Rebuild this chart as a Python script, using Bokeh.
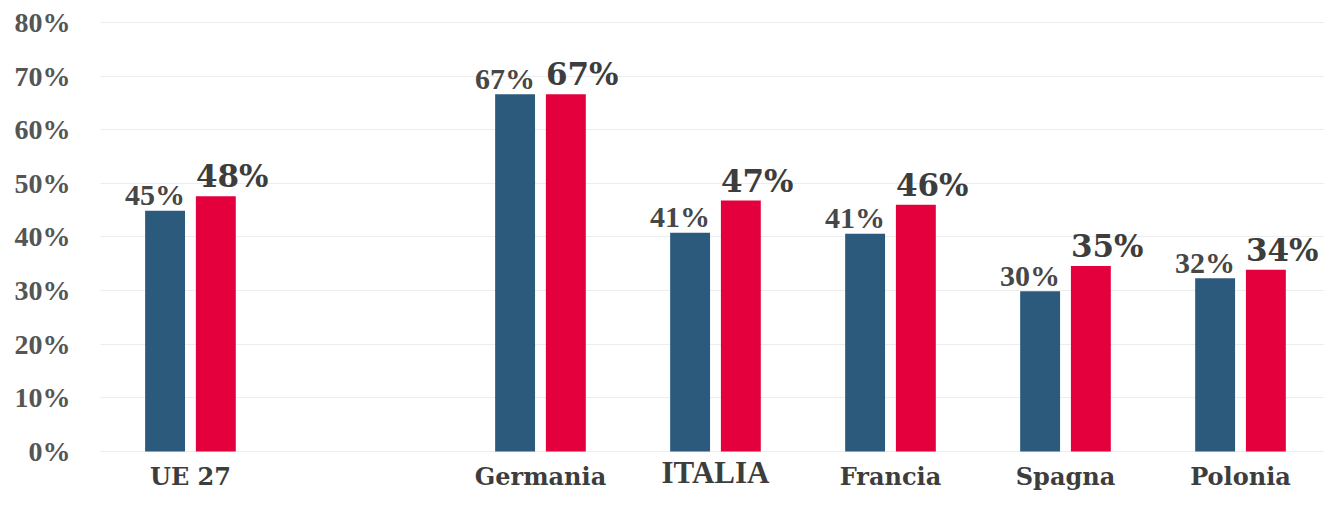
from bokeh.plotting import figure
from bokeh.models import Range1d, FixedTicker, ColumnDataSource
from bokeh.core.properties import value
from bokeh.embed import file_html
from bokeh.resources import INLINE

# ---- data ----
categories = ["UE 27", "", "Germania", "ITALIA", "Francia", "Spagna", "Polonia"]
series_a = [44.9, None, 66.6, 40.8, 40.6, 29.9, 32.3]   # blue
series_b = [47.6, None, 66.6, 46.8, 46.0, 34.6, 33.9]   # red
y_ticks = [0, 10, 20, 30, 40, 50, 60, 70, 80]
y_tick_labels = ["0%", "10%", "20%", "30%", "40%", "50%", "60%", "70%", "80%"]

BLUE = "#2C5A7D"
RED = "#E4003D"
TXT = "#3D3D3D"

p = figure(width=1324, height=490, output_backend="svg", toolbar_location=None,
           x_range=Range1d(-0.514, 6.48), y_range=Range1d(-7.27, 84.1),
           min_border=0, min_border_left=100)
p.outline_line_color = None
p.background_fill_color = "white"
p.border_fill_color = "white"

idx = [i for i, c in enumerate(categories) if series_a[i] is not None]
w = 0.228
off = 0.145
src = ColumnDataSource(dict(
    xa=[i - off for i in idx], xb=[i + off for i in idx],
    ya=[series_a[i] for i in idx], yb=[series_b[i] for i in idx],
    la=["%d%%" % round(series_a[i]) for i in idx],
    lb=["%d%%" % round(series_b[i]) for i in idx],
    xla=[i - off + w / 2 for i in idx], xlb=[i + off - w / 2 for i in idx],
))

p.vbar(x="xa", top="ya", bottom=0, width=w, source=src, fill_color=BLUE, line_color=None)
p.vbar(x="xb", top="yb", bottom=0, width=w, source=src, fill_color=RED, line_color=None)

p.text(x="xla", y="ya", text="la", source=src, text_align="right", text_baseline="alphabetic",
       y_offset=-16, text_font=value("Liberation Serif"), text_font_style="bold",
       text_font_size="30px", text_color="#474747")
p.text(x="xlb", y="yb", text="lb", source=src, text_align="left", text_baseline="alphabetic",
       y_offset=-20, text_font=value("DejaVu Serif"), text_font_style="bold",
       text_font_size="31px", text_color=TXT)

# category labels
norm = [i for i, c in enumerate(categories) if c and c != "ITALIA"]
ital = [i for i, c in enumerate(categories) if c == "ITALIA"]
p.text(x=norm, y=[0] * len(norm), text=[categories[i] for i in norm], text_align="center",
       text_baseline="top", y_offset=10, text_font=value("DejaVu Serif"),
       text_font_style="bold", text_font_size="24px", text_color=TXT)
p.text(x=ital, y=[0] * len(ital), text=[categories[i] for i in ital], text_align="center",
       text_baseline="top", y_offset=3, text_font=value("Liberation Serif"),
       text_font_style="bold", text_font_size="31px", text_color=TXT)

p.xaxis.visible = False
p.xgrid.visible = False
p.ygrid.grid_line_color = "#EDEDED"
p.ygrid.grid_line_width = 1
p.yaxis.ticker = FixedTicker(ticks=y_ticks)
p.yaxis.major_label_overrides = {t: l for t, l in zip(y_ticks, y_tick_labels)}
p.yaxis.axis_line_color = None
p.yaxis.major_tick_line_color = None
p.yaxis.minor_tick_line_color = None
p.yaxis.major_tick_out = 0
p.yaxis.major_tick_in = 0
p.yaxis.major_label_standoff = 30
p.yaxis.major_label_text_font = "Liberation Serif"
p.yaxis.major_label_text_font_style = "bold"
p.yaxis.major_label_text_font_size = "28px"
p.yaxis.major_label_text_color = "#555555"

open("out.html", "w").write(file_html(p, INLINE))
